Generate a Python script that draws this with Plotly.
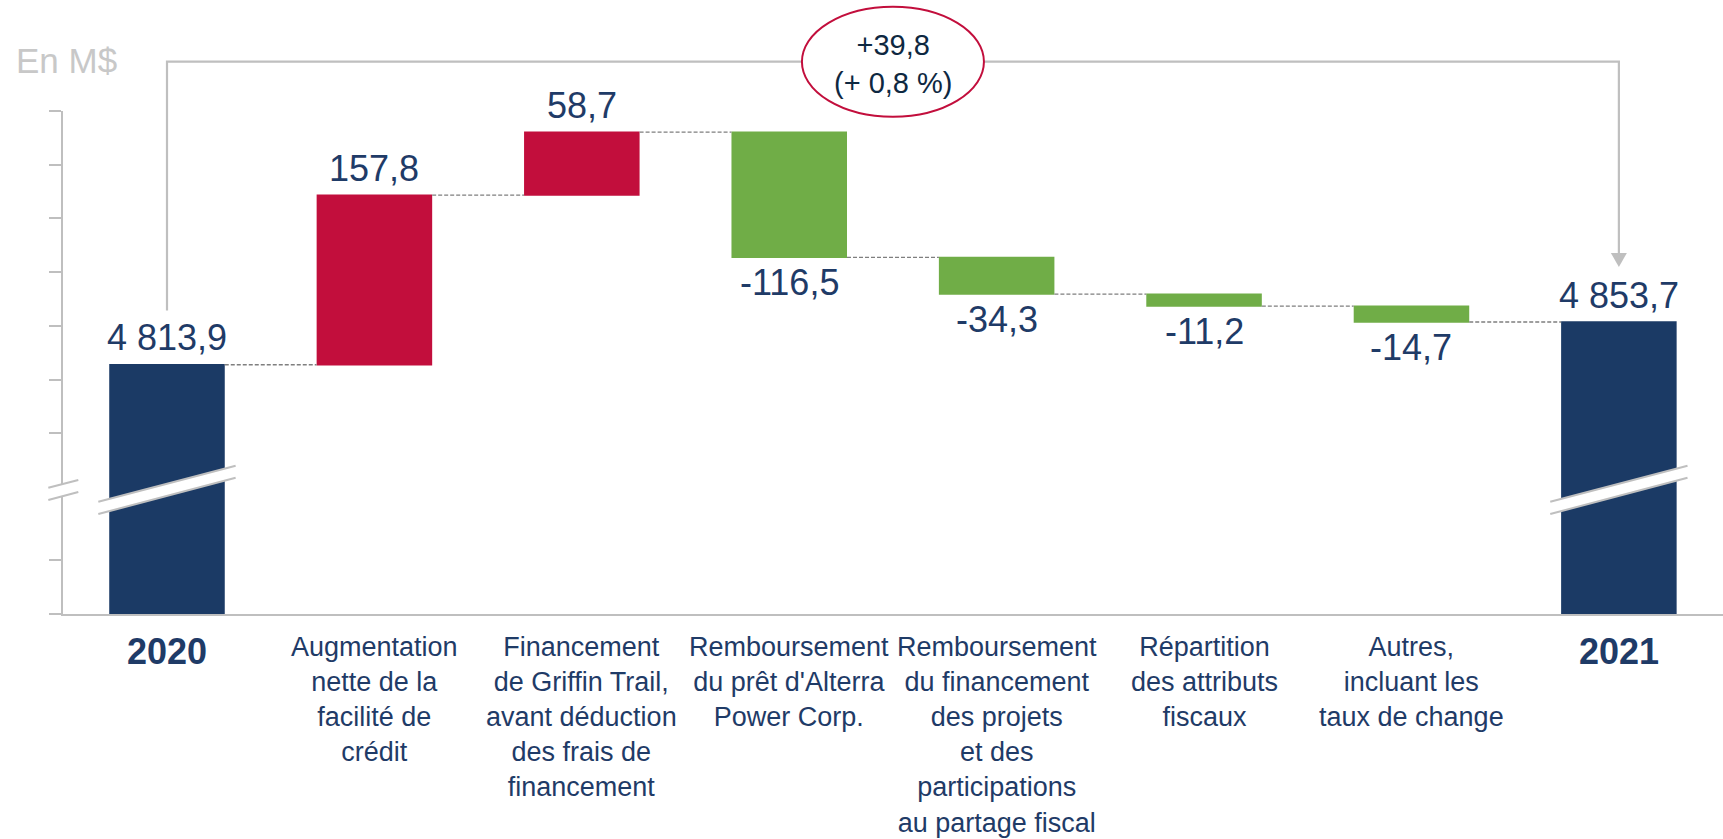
import plotly.graph_objects as go

# ---------------- data ----------------
categories = [
    "<b>2020</b>",
    "Augmentation<br>nette de la<br>facilité de<br>crédit",
    "Financement<br>de Griffin Trail,<br>avant déduction<br>des frais de<br>financement",
    "Remboursement<br>du prêt d'Alterra<br>Power Corp.",
    "Remboursement<br>du financement<br>des projets<br>et des<br>participations<br>au partage fiscal",
    "Répartition<br>des attributs<br>fiscaux",
    "Autres,<br>incluant les<br>taux de change",
    "<b>2021</b>",
]
start_value = 4813.9
changes = [157.8, 58.7, -116.5, -34.3, -11.2, -14.7]
end_value = 4853.7
unit_label = "En M$"
y_tick_positions = [4582, 4632, 4750, 4800, 4850, 4900, 4950, 5000, 5050]

# ---------------- style ----------------
FONT = "Liberation Sans, Arial, sans-serif"
NAVY = "#1B3A65"
RED = "#C20E3C"
GREEN = "#70AD47"
GRAY = "#BFBFBF"
TEXT = "#1F3B67"
Y_MIN, Y_MAX = 4582, 5050
W, H = 1723, 839
M_L, M_R, M_T, M_B = 63, 0, 111, 225
PLOT_H = H - M_T - M_B
X_RANGE = [-0.5014, 7.502]
BAR_W = 0.557


def fr(v, signed=False):
    s = f"{abs(v):,.1f}".replace(",", " ").replace(".", ",")
    if v < 0:
        return "-" + s
    return ("+" + s) if signed else s


def vpaper(v, px_up=0.0):
    """value -> paper y, optionally shifted up by px pixels"""
    return (v - Y_MIN) / (Y_MAX - Y_MIN) + px_up / PLOT_H


x = list(range(len(categories)))
measures = ["absolute"] + ["relative"] * len(changes) + ["total"]
yvals = [start_value] + changes + [0]

fig = go.Figure()
fig.add_trace(go.Waterfall(
    x=x, y=yvals, measure=measures, width=[BAR_W] * len(x),
    increasing=dict(marker=dict(color=RED, line=dict(width=0))),
    decreasing=dict(marker=dict(color=GREEN, line=dict(width=0))),
    totals=dict(marker=dict(color=NAVY, line=dict(width=0))),
    connector=dict(mode="between", line=dict(color="#7F7F7F", width=1.3, dash="4px,2px")),
    textinfo="none", hoverinfo="skip", showlegend=False,
))

annotations = []
# value labels
running = start_value
annotations.append(dict(x=0, y=start_value, xref="x", yref="y", text=fr(start_value),
                        showarrow=False, yanchor="bottom", yshift=4.4,
                        font=dict(family=FONT, size=36, color=TEXT)))
for i, c in enumerate(changes, start=1):
    running += c
    if c >= 0:
        annotations.append(dict(x=i, y=running, xref="x", yref="y", text=fr(c),
                                showarrow=False, yanchor="bottom", yshift=4.4,
                                font=dict(family=FONT, size=36, color=TEXT)))
    else:
        annotations.append(dict(x=i, y=running, xref="x", yref="y", text=fr(c),
                                showarrow=False, yanchor="top", yshift=-2.8,
                                font=dict(family=FONT, size=36, color=TEXT)))
annotations.append(dict(x=len(x) - 1, y=end_value, xref="x", yref="y", text=fr(end_value),
                        showarrow=False, yanchor="bottom", yshift=4.4,
                        font=dict(family=FONT, size=36, color=TEXT)))

# category labels
for i, cat in enumerate(categories):
    bold = cat.startswith("<b>")
    annotations.append(dict(x=i, y=0, xref="x", yref="paper", text=cat, showarrow=False,
                            yanchor="top", yshift=-16 if not bold else -15, align="center",
                            font=dict(family=FONT, size=36 if bold else 27, color=TEXT)))

# unit label
annotations.append(dict(x=-49 / (W - M_L - M_R), y=1 + 72 / PLOT_H, xref="paper", yref="paper",
                        text=unit_label, showarrow=False, xanchor="left", yanchor="top",
                        font=dict(family=FONT, size=35, color="#C8C8C8")))

# total change in ellipse
delta = end_value - start_value
pct = delta / start_value * 100
bracket_y = 1 + (M_T - 61.7) / PLOT_H
annotations.append(dict(x=(len(x) - 1) / 2, y=1 + (M_T - 63.6) / PLOT_H, xref="x", yref="paper",
                        text=f"{fr(delta, signed=True)}<br>(+ {pct:.1f} %)".replace(".", ","),
                        showarrow=False, yanchor="middle",
                        font=dict(family=FONT, size=29, color="#0E2841")))

shapes = []
# bracket
left_leg_bottom = vpaper(start_value, 54.3)
arrow_tip = vpaper(end_value, 55)
arrow_top = vpaper(end_value, 69)
last = len(x) - 1
shapes.append(dict(type="path", xref="x", yref="paper",
                   path=f"M 0,{left_leg_bottom} L 0,{bracket_y} L {last},{bracket_y} L {last},{arrow_top}",
                   line=dict(color=GRAY, width=2.2), layer="above"))
aw = 8 / 207.4
shapes.append(dict(type="path", xref="x", yref="paper",
                   path=f"M {last - aw},{arrow_top} L {last + aw},{arrow_top} L {last},{arrow_tip} Z",
                   fillcolor=GRAY, line=dict(width=0), layer="above"))
# ellipse
ehw = 91 / 207.4
shapes.append(dict(type="circle", xref="x", yref="paper",
                   x0=(last / 2) - ehw, x1=(last / 2) + ehw,
                   y0=1 + (M_T - 116.7) / PLOT_H, y1=1 + (M_T - 6.7) / PLOT_H,
                   fillcolor="white", line=dict(color=RED, width=2), layer="above"))


# axis break marks
def brk(xref, x0, x1, yu0, yu1, yl0, yl1):
    shapes.append(dict(type="path", xref=xref, yref="y",
                       path=f"M {x0},{yu0} L {x1},{yu1} L {x1},{yl1} L {x0},{yl0} Z",
                       fillcolor="white", line=dict(width=0), layer="above"))
    for a, b in ((yu0, yu1), (yl0, yl1)):
        shapes.append(dict(type="line", xref=xref, yref="y", x0=x0, x1=x1, y0=a, y1=b,
                           line=dict(color=GRAY, width=2), layer="above"))


for bi in (0, last):
    brk("x", bi - 0.331, bi + 0.331, 4686.5, 4720.0, 4675.0, 4708.8)
brk("paper", -14.7 / 1660, 15.3 / 1660, 4699.5, 4706.7, 4688.1, 4695.5)

fig.update_layout(
    width=W, height=H,
    margin=dict(l=M_L, r=M_R, t=M_T, b=M_B, pad=0),
    paper_bgcolor="white", plot_bgcolor="white",
    font=dict(family=FONT, color=TEXT),
    xaxis=dict(range=X_RANGE, showgrid=False, zeroline=False, showticklabels=False,
               ticks="", showline=True, linecolor=GRAY, linewidth=2, fixedrange=True),
    yaxis=dict(range=[Y_MIN, Y_MAX], showgrid=False, zeroline=False, showticklabels=False,
               tickmode="array", tickvals=y_tick_positions, ticks="outside", ticklen=12,
               tickwidth=2, tickcolor=GRAY, showline=True, linecolor=GRAY, linewidth=2,
               fixedrange=True),
    annotations=annotations, shapes=shapes,
)

fig.write_html("out.html", config={"displayModeBar": False},
               post_script="document.body.style.margin='0';document.body.style.overflow='hidden';")
